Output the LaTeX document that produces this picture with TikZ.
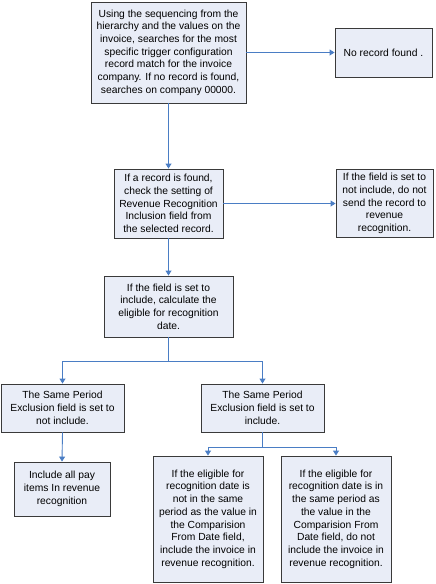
\documentclass[tikz,border=0pt]{standalone}
\usepackage{fontspec}
\setmainfont{Liberation Sans}
\usetikzlibrary{arrows.meta}
\definecolor{boxfill}{HTML}{E9EDF7}
\definecolor{boxline}{HTML}{3A3A3A}
\definecolor{flow}{HTML}{4A7DC4}
\begin{document}
\begin{tikzpicture}[x=1pt,y=1pt,
  proc/.style={draw=boxline,fill=boxfill,line width=0.9pt,inner sep=0pt,align=center,
    font=\fontsize{10.3}{12.7}\selectfont},
  link/.style={draw=flow,line width=0.9pt,-{Triangle[length=5pt,width=6pt]}}]
\useasboundingbox (0,0) rectangle (436,-584);
\node[proc,minimum width=155,minimum height=101] (b1) at (168.5,-52.5)
 {Using the sequencing from the\\hierarchy and the values on the\\invoice, searches for the most\\specific trigger configuration\\record match for the invoice\\company. If no record is found,\\searches on company 00000.};
\node[proc,minimum width=97,minimum height=49] (nr) at (383.5,-52.5) {No record found .};
\node[proc,minimum width=109,minimum height=69] (b2) at (168.5,-203.5)
 {If a record is found,\\check the setting of\\Revenue Recognition\\Inclusion field from\\the selected record.};
\node[proc,minimum width=97,minimum height=68] (b3) at (384.5,-203.5)
 {If the field is set to\\not include, do not\\send the record to\\revenue\\recognition.};
\node[proc,minimum width=129,minimum height=61] (b4) at (168.5,-306.5)
 {If the field is set to\\include, calculate the\\eligible for recognition\\date.};
\node[proc,minimum width=123,minimum height=48] (b5) at (62.5,-408)
 {The Same Period\\Exclusion field is set to\\not include.};
\node[proc,minimum width=123,minimum height=48] (b6) at (262.5,-408)
 {The Same Period\\Exclusion field is set to\\include.};
\node[proc,minimum width=96,minimum height=54] (b7) at (62,-489)
 {Include all pay\\items In revenue\\recognition};
\node[proc,minimum width=110,minimum height=126] (b8) at (208,-519)
 {If the eligible for\\recognition date is\\not in the same\\period as the value in\\the Comparision\\From Date field,\\include the invoice in\\revenue recognition.};
\node[proc,minimum width=110,minimum height=126] (b9) at (336,-519)
 {If the eligible for\\recognition date is in\\the same period as\\the value in the\\Comparision From\\Date field, do not\\include the invoice in\\revenue recognition.};
\coordinate (j1) at (168.5,-361);
\coordinate (j2) at (262.5,-447);
\draw[link] (b1.east) -- (nr.west);
\draw[link] (b1.south) -- (b2.north);
\draw[link] (b2.east) -- (b3.west);
\draw[link] (b2.south) -- (b4.north);
\draw[draw=flow,line width=0.9pt] (b4.south) -- (j1);
\draw[link] (j1) -| (b5.north);
\draw[link] (j1) -| (b6.north);
\draw[link] (b5.south) -- (b7.north);
\draw[draw=flow,line width=0.9pt] (b6.south) -- (j2);
\draw[link] (j2) -| (b8.north);
\draw[link] (j2) -| (b9.north);
\end{tikzpicture}
\end{document}
